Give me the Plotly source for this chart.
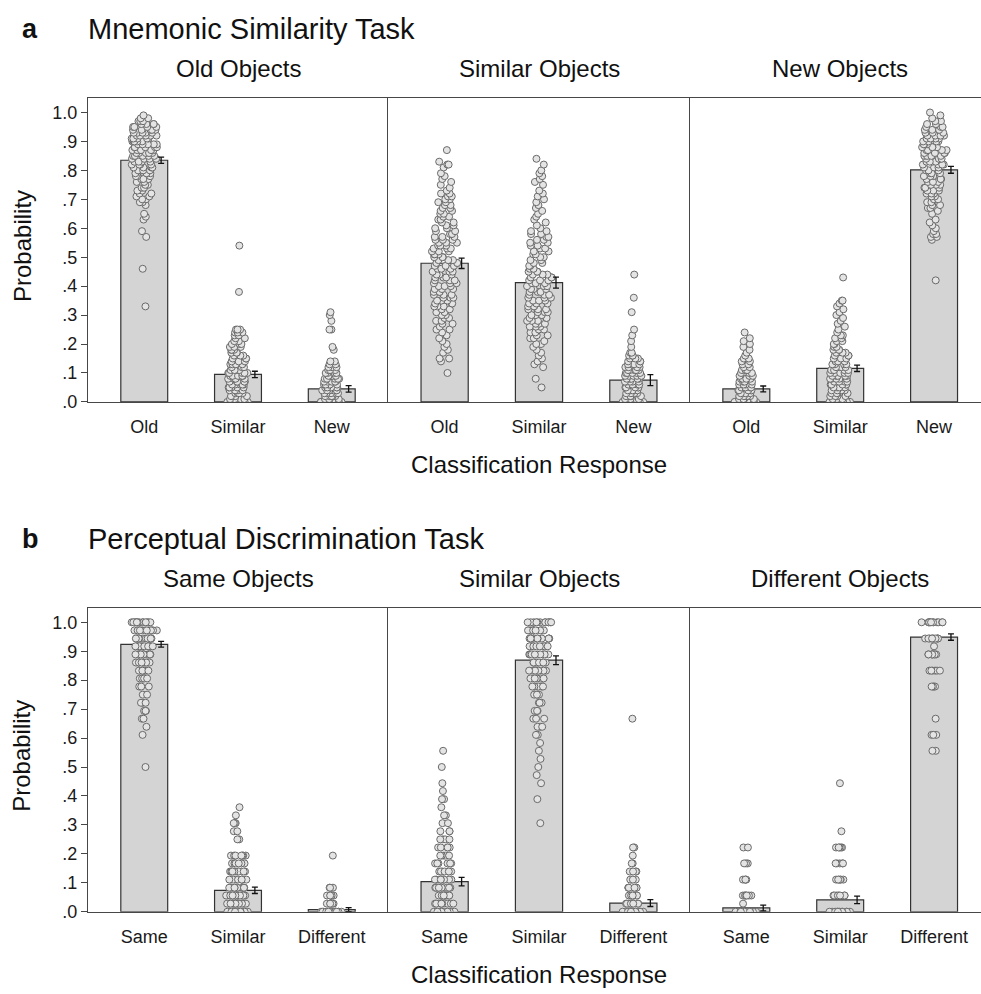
import plotly.graph_objects as go

W, H = 981, 994

# ---------------- Panel a: Mnemonic Similarity Task ----------------
conditions_a = ["Old Objects", "Similar Objects", "New Objects"]
responses_a = ["Old", "Similar", "New"]
means_a = [[0.835, 0.095, 0.045], [0.479, 0.412, 0.075], [0.045, 0.116, 0.802]]
se_a = [[0.011, 0.011, 0.011], [0.018, 0.019, 0.019], [0.010, 0.011, 0.012]]

a_oldobj_old = [0.33, 0.46, 0.57, 0.59, 0.63, 0.64, 0.65,
                0.68, 0.69, 0.69, 0.70, 0.70, 0.71, 0.71, 0.72, 0.72, 0.73, 0.73, 0.74, 0.74, 0.75, 0.75,
                0.76, 0.76, 0.76, 0.77, 0.77, 0.77, 0.78, 0.78, 0.78, 0.79, 0.79, 0.79, 0.80, 0.80, 0.80, 0.80,
                0.81, 0.81, 0.81, 0.81, 0.82, 0.82, 0.82, 0.82, 0.83, 0.83, 0.83, 0.83, 0.84, 0.84, 0.84, 0.84,
                0.85, 0.85, 0.85, 0.85, 0.85, 0.86, 0.86, 0.86, 0.86, 0.86, 0.87, 0.87, 0.87, 0.87, 0.87,
                0.88, 0.88, 0.88, 0.88, 0.88, 0.89, 0.89, 0.89, 0.89, 0.89, 0.90, 0.90, 0.90, 0.90, 0.90,
                0.91, 0.91, 0.91, 0.91, 0.91, 0.92, 0.92, 0.92, 0.92, 0.92, 0.93, 0.93, 0.93, 0.93, 0.93,
                0.94, 0.94, 0.94, 0.94, 0.94, 0.95, 0.95, 0.95, 0.95, 0.96, 0.96, 0.96, 0.96,
                0.97, 0.97, 0.97, 0.98, 0.98, 0.99]
a_oldobj_sim = [0.00, 0.00, 0.00, 0.00, 0.00, 0.00, 0.00, 0.00, 0.00, 0.00,
                0.01, 0.01, 0.01, 0.01, 0.02, 0.02, 0.02, 0.02, 0.03, 0.03, 0.03, 0.03,
                0.04, 0.04, 0.04, 0.04, 0.04, 0.05, 0.05, 0.05, 0.05, 0.05, 0.06, 0.06, 0.06, 0.06, 0.06,
                0.07, 0.07, 0.07, 0.07, 0.07, 0.08, 0.08, 0.08, 0.08, 0.08, 0.09, 0.09, 0.09, 0.09, 0.09,
                0.10, 0.10, 0.10, 0.10, 0.10, 0.11, 0.11, 0.11, 0.11, 0.12, 0.12, 0.12, 0.12,
                0.13, 0.13, 0.13, 0.13, 0.14, 0.14, 0.14, 0.15, 0.15, 0.15, 0.16, 0.16, 0.16,
                0.17, 0.17, 0.17, 0.18, 0.18, 0.18, 0.19, 0.19, 0.19, 0.20, 0.20, 0.20, 0.21, 0.21,
                0.22, 0.22, 0.23, 0.23, 0.24, 0.24, 0.24, 0.25, 0.25, 0.25, 0.38, 0.54]
a_oldobj_new = [0.00, 0.00, 0.00, 0.00, 0.00, 0.00, 0.00, 0.00, 0.00, 0.00, 0.00, 0.00, 0.00, 0.00,
                0.01, 0.01, 0.01, 0.01, 0.01, 0.02, 0.02, 0.02, 0.02, 0.02, 0.02,
                0.03, 0.03, 0.03, 0.03, 0.03, 0.03, 0.04, 0.04, 0.04, 0.04, 0.04, 0.04,
                0.05, 0.05, 0.05, 0.05, 0.05, 0.05, 0.06, 0.06, 0.06, 0.06, 0.06,
                0.07, 0.07, 0.07, 0.07, 0.07, 0.08, 0.08, 0.08, 0.08, 0.08, 0.09, 0.09, 0.09, 0.09,
                0.10, 0.10, 0.10, 0.10, 0.11, 0.11, 0.11, 0.12, 0.12, 0.12, 0.13, 0.13, 0.14, 0.14,
                0.18, 0.19, 0.25, 0.25, 0.28, 0.30, 0.31]

a_simobj_old = [0.10, 0.14, 0.15, 0.15, 0.17, 0.18, 0.19, 0.20, 0.21, 0.22, 0.23, 0.24, 0.25, 0.25,
                0.26, 0.27, 0.27, 0.28, 0.28, 0.29, 0.29, 0.30, 0.30, 0.31, 0.31, 0.32, 0.32,
                0.33, 0.33, 0.33, 0.34, 0.34, 0.34, 0.35, 0.35, 0.35, 0.36, 0.36, 0.36, 0.37, 0.37, 0.37,
                0.38, 0.38, 0.38, 0.39, 0.39, 0.39, 0.40, 0.40, 0.40, 0.41, 0.41, 0.41, 0.42, 0.42, 0.42,
                0.43, 0.43, 0.43, 0.44, 0.44, 0.44, 0.45, 0.45, 0.45, 0.46, 0.46, 0.46, 0.47, 0.47, 0.47,
                0.48, 0.48, 0.48, 0.49, 0.49, 0.49, 0.50, 0.50, 0.50, 0.51, 0.51, 0.51, 0.52, 0.52, 0.52,
                0.53, 0.53, 0.53, 0.54, 0.54, 0.54, 0.55, 0.55, 0.55, 0.56, 0.56, 0.56, 0.57, 0.57, 0.57,
                0.58, 0.58, 0.59, 0.59, 0.60, 0.60, 0.61, 0.61, 0.62, 0.62, 0.63, 0.63, 0.64, 0.64,
                0.65, 0.65, 0.66, 0.66, 0.67, 0.67, 0.68, 0.68, 0.69, 0.69, 0.70, 0.70, 0.71, 0.71,
                0.72, 0.72, 0.73, 0.74, 0.75, 0.76, 0.77, 0.78, 0.79, 0.81, 0.82, 0.82, 0.83, 0.87]
a_simobj_sim = [0.05, 0.08, 0.12, 0.13, 0.14, 0.15, 0.16, 0.17, 0.18, 0.19, 0.20, 0.20, 0.21, 0.22, 0.22,
                0.23, 0.23, 0.24, 0.24, 0.25, 0.25, 0.26, 0.26, 0.26, 0.27, 0.27, 0.27, 0.28, 0.28, 0.28,
                0.29, 0.29, 0.29, 0.30, 0.30, 0.30, 0.31, 0.31, 0.31, 0.32, 0.32, 0.32, 0.33, 0.33, 0.33,
                0.34, 0.34, 0.34, 0.35, 0.35, 0.35, 0.36, 0.36, 0.36, 0.37, 0.37, 0.37, 0.38, 0.38, 0.38,
                0.39, 0.39, 0.39, 0.40, 0.40, 0.40, 0.41, 0.41, 0.41, 0.42, 0.42, 0.42, 0.43, 0.43, 0.43,
                0.44, 0.44, 0.44, 0.45, 0.45, 0.45, 0.46, 0.46, 0.47, 0.47, 0.48, 0.48, 0.49, 0.49,
                0.50, 0.50, 0.51, 0.51, 0.52, 0.52, 0.53, 0.53, 0.54, 0.54, 0.55, 0.55, 0.56, 0.56,
                0.57, 0.57, 0.58, 0.58, 0.59, 0.59, 0.60, 0.61, 0.62, 0.63, 0.64, 0.65, 0.66, 0.67,
                0.68, 0.69, 0.70, 0.71, 0.72, 0.73, 0.75, 0.76, 0.77, 0.78, 0.79, 0.80, 0.82, 0.84]
a_simobj_new = [0.00, 0.00, 0.00, 0.00, 0.00, 0.00, 0.00, 0.00, 0.00, 0.00, 0.01, 0.01, 0.01, 0.01,
                0.02, 0.02, 0.02, 0.02, 0.02, 0.03, 0.03, 0.03, 0.03, 0.03, 0.04, 0.04, 0.04, 0.04, 0.04,
                0.05, 0.05, 0.05, 0.05, 0.05, 0.06, 0.06, 0.06, 0.06, 0.06, 0.07, 0.07, 0.07, 0.07, 0.07,
                0.08, 0.08, 0.08, 0.08, 0.08, 0.09, 0.09, 0.09, 0.09, 0.09, 0.10, 0.10, 0.10, 0.10, 0.10,
                0.11, 0.11, 0.11, 0.11, 0.11, 0.12, 0.12, 0.12, 0.12, 0.13, 0.13, 0.13, 0.13,
                0.14, 0.14, 0.14, 0.15, 0.15, 0.15, 0.16, 0.16, 0.16, 0.17, 0.17,
                0.19, 0.21, 0.23, 0.25, 0.31, 0.36, 0.44]

a_newobj_old = [0.00, 0.00, 0.00, 0.00, 0.00, 0.00, 0.00, 0.00, 0.00, 0.00, 0.00, 0.00, 0.00, 0.00,
                0.01, 0.01, 0.01, 0.01, 0.01, 0.02, 0.02, 0.02, 0.02, 0.02, 0.03, 0.03, 0.03, 0.03, 0.03,
                0.04, 0.04, 0.04, 0.04, 0.04, 0.05, 0.05, 0.05, 0.05, 0.05, 0.06, 0.06, 0.06, 0.06,
                0.07, 0.07, 0.07, 0.07, 0.08, 0.08, 0.08, 0.08, 0.09, 0.09, 0.09, 0.10, 0.10, 0.10,
                0.11, 0.11, 0.11, 0.12, 0.12, 0.13, 0.13, 0.14, 0.14, 0.15, 0.15,
                0.16, 0.17, 0.18, 0.19, 0.20, 0.21, 0.22, 0.24]
a_newobj_sim = [0.00, 0.00, 0.00, 0.00, 0.00, 0.00, 0.00, 0.00, 0.01, 0.01, 0.01, 0.02, 0.02, 0.02, 0.02,
                0.03, 0.03, 0.03, 0.03, 0.04, 0.04, 0.04, 0.04, 0.04, 0.05, 0.05, 0.05, 0.05, 0.05,
                0.06, 0.06, 0.06, 0.06, 0.06, 0.07, 0.07, 0.07, 0.07, 0.07, 0.08, 0.08, 0.08, 0.08, 0.08,
                0.09, 0.09, 0.09, 0.09, 0.09, 0.10, 0.10, 0.10, 0.10, 0.10, 0.11, 0.11, 0.11, 0.11,
                0.12, 0.12, 0.12, 0.12, 0.13, 0.13, 0.13, 0.13, 0.14, 0.14, 0.14, 0.15, 0.15, 0.15,
                0.16, 0.16, 0.16, 0.17, 0.17, 0.17, 0.18, 0.18, 0.18, 0.19, 0.19, 0.20, 0.20,
                0.21, 0.21, 0.22, 0.22, 0.23, 0.23, 0.24, 0.25, 0.26, 0.27, 0.28, 0.29, 0.30,
                0.31, 0.32, 0.33, 0.34, 0.35, 0.35, 0.43]
a_newobj_new = [0.42, 0.56, 0.57, 0.57, 0.58, 0.58, 0.59, 0.60, 0.61, 0.62, 0.63, 0.65, 0.66, 0.67, 0.67,
                0.68, 0.68, 0.69, 0.69, 0.70, 0.70, 0.71, 0.71, 0.72, 0.72, 0.72, 0.73, 0.73, 0.73,
                0.74, 0.74, 0.74, 0.75, 0.75, 0.75, 0.76, 0.76, 0.76, 0.77, 0.77, 0.77, 0.78, 0.78, 0.78,
                0.79, 0.79, 0.79, 0.80, 0.80, 0.80, 0.81, 0.81, 0.81, 0.82, 0.82, 0.82, 0.82,
                0.83, 0.83, 0.83, 0.83, 0.84, 0.84, 0.84, 0.84, 0.85, 0.85, 0.85, 0.85,
                0.86, 0.86, 0.86, 0.86, 0.87, 0.87, 0.87, 0.87, 0.88, 0.88, 0.88, 0.88,
                0.89, 0.89, 0.89, 0.89, 0.90, 0.90, 0.90, 0.90, 0.91, 0.91, 0.91, 0.91,
                0.92, 0.92, 0.92, 0.92, 0.93, 0.93, 0.93, 0.94, 0.94, 0.94, 0.95, 0.95, 0.95,
                0.96, 0.96, 0.97, 0.97, 0.98, 0.99, 1.00]

points_a = [[a_oldobj_old, a_oldobj_sim, a_oldobj_new],
            [a_simobj_old, a_simobj_sim, a_simobj_new],
            [a_newobj_old, a_newobj_sim, a_newobj_new]]

# ---------------- Panel b: Perceptual Discrimination Task ----------------
# responses here take discrete values; each group is given as (value levels, number of dots at that level)
conditions_b = ["Same Objects", "Similar Objects", "Different Objects"]
responses_b = ["Same", "Similar", "Different"]
means_b = [[0.924, 0.074, 0.007], [0.104, 0.869, 0.030], [0.013, 0.041, 0.949]]
se_b = [[0.010, 0.011, 0.007], [0.015, 0.015, 0.012], [0.010, 0.013, 0.011]]

b_sameobj_same_levels = [1.0, 0.972, 0.944, 0.917, 0.889, 0.861, 0.833, 0.806, 0.778, 0.75, 0.722, 0.694, 0.667, 0.639, 0.611, 0.5]
b_sameobj_same_counts = [14, 12, 12, 10, 9, 8, 6, 5, 3, 2, 3, 3, 2, 1, 1, 1]
b_sameobj_sim_levels = [0.0, 0.028, 0.056, 0.083, 0.111, 0.139, 0.167, 0.194, 0.25, 0.278, 0.306, 0.333, 0.361]
b_sameobj_sim_counts = [12, 12, 12, 10, 9, 8, 7, 7, 2, 2, 4, 1, 1]
b_sameobj_diff_levels = [0.0, 0.028, 0.056, 0.083, 0.194]
b_sameobj_diff_counts = [16, 7, 6, 3, 1]

b_simobj_same_levels = [0.0, 0.028, 0.056, 0.083, 0.111, 0.139, 0.167, 0.194, 0.222, 0.25, 0.278, 0.306, 0.333, 0.361, 0.389, 0.417, 0.444, 0.5, 0.556]
b_simobj_same_counts = [10, 9, 9, 9, 8, 7, 6, 5, 5, 4, 3, 2, 2, 1, 2, 1, 1, 1, 1]
b_simobj_sim_levels = [1.0, 0.972, 0.944, 0.917, 0.889, 0.861, 0.833, 0.806, 0.778, 0.75, 0.722, 0.694, 0.667, 0.639, 0.611, 0.583, 0.556, 0.528, 0.5, 0.472, 0.444, 0.389, 0.306]
b_simobj_sim_counts = [12, 11, 11, 10, 9, 8, 7, 6, 5, 4, 3, 3, 3, 3, 2, 1, 1, 1, 1, 1, 1, 1, 1]
b_simobj_diff_levels = [0.0, 0.028, 0.056, 0.083, 0.111, 0.139, 0.167, 0.194, 0.222, 0.667]
b_simobj_diff_counts = [12, 8, 8, 6, 4, 4, 2, 1, 2, 1]

b_diffobj_same_levels = [0.0, 0.028, 0.056, 0.111, 0.167, 0.222]
b_diffobj_same_counts = [14, 1, 7, 4, 3, 2]
b_diffobj_sim_levels = [0.0, 0.056, 0.111, 0.167, 0.222, 0.278, 0.444]
b_diffobj_sim_counts = [12, 8, 6, 5, 5, 1, 1]
b_diffobj_diff_levels = [1.0, 0.944, 0.917, 0.889, 0.833, 0.778, 0.667, 0.611, 0.556]
b_diffobj_diff_counts = [12, 10, 1, 8, 6, 4, 1, 3, 2]


def expand(levels, counts):
    out = []
    for v, n in zip(levels, counts):
        out.extend([v] * n)
    return out


points_b = [[expand(b_sameobj_same_levels, b_sameobj_same_counts),
             expand(b_sameobj_sim_levels, b_sameobj_sim_counts),
             expand(b_sameobj_diff_levels, b_sameobj_diff_counts)],
            [expand(b_simobj_same_levels, b_simobj_same_counts),
             expand(b_simobj_sim_levels, b_simobj_sim_counts),
             expand(b_simobj_diff_levels, b_simobj_diff_counts)],
            [expand(b_diffobj_same_levels, b_diffobj_same_counts),
             expand(b_diffobj_sim_levels, b_diffobj_sim_counts),
             expand(b_diffobj_diff_levels, b_diffobj_diff_counts)]]

y_tickvals = [0.0, 0.1, 0.2, 0.3, 0.4, 0.5, 0.6, 0.7, 0.8, 0.9, 1.0]
y_ticktext = [".0", ".1", ".2", ".3", ".4", ".5", ".6", ".7", ".8", ".9", "1.0"]

# ---------------- styling / layout geometry ----------------
FONT = "Liberation Sans, Arial, Helvetica, sans-serif"
BAR_FILL = "#d4d4d4"
FRAME = "#474747"
col_px = [(88, 388), (388, 690), (690, 981)]
col_ranges = [[-0.6, 2.6], [-0.6, 2.6], [-0.6, 2.5]]
row_px = [(99, 406), (614, 921)]   # top, bottom in pixels

fig = go.Figure()
layout = dict(width=W, height=H, margin=dict(l=0, r=0, t=0, b=0),
              paper_bgcolor="white", plot_bgcolor="white", showlegend=False,
              font=dict(family=FONT, color="#1a1a1a"), boxmode="overlay")

panels = [(means_a, se_a, points_a, responses_a), (means_b, se_b, points_b, responses_b)]
for r, (means, ses, pts, resp) in enumerate(panels):
    for c in range(3):
        k = r * 3 + c + 1
        xa, ya = f"x{k}", f"y{k}"
        fig.add_trace(go.Bar(x=[0, 1, 2], y=means[c], width=0.5, xaxis=xa, yaxis=ya,
                             marker=dict(color=BAR_FILL, line=dict(color="#333333", width=1.2)),
                             hoverinfo="skip"))
        for i, vals in enumerate(pts[c]):
            fig.add_trace(go.Box(y=vals, x0=i, width=0.27, xaxis=xa, yaxis=ya,
                                 boxpoints="all", jitter=1, pointpos=0,
                                 fillcolor="rgba(0,0,0,0)", line=dict(color="rgba(0,0,0,0)", width=0),
                                 marker=dict(size=7, color="#e4e4e4",
                                             line=dict(color="#6a6a6a", width=1)),
                                 hoverinfo="skip"))
        fig.add_trace(go.Scatter(x=[i + 0.18 for i in range(3)], y=means[c], mode="markers",
                                 xaxis=xa, yaxis=ya,
                                 marker=dict(size=1, color="rgba(0,0,0,0)"),
                                 error_y=dict(type="data", array=ses[c], color="#111111",
                                              thickness=1.3, width=3),
                                 hoverinfo="skip"))
        top, bot = row_px[r]
        x0p, x1p = col_px[c]
        layout[f"xaxis{k}"] = dict(domain=[x0p / W, x1p / W], range=col_ranges[c], anchor=ya,
                                   showline=True, linecolor=FRAME, linewidth=1.2, mirror=True,
                                   ticks="", tickvals=[0, 1, 2], ticktext=resp,
                                   tickfont=dict(size=18, color="#1a1a1a"), ticklabelstandoff=8,
                                   showgrid=False, zeroline=False, fixedrange=True)
        ydict = dict(domain=[(H - bot) / H, (H - top) / H], range=[0, 1.05], anchor=xa,
                     showline=True, linecolor=FRAME, linewidth=1.2, mirror=False,
                     showgrid=False, zeroline=False, fixedrange=True)
        if c == 0:
            ydict.update(ticks="outside", ticklen=6, tickcolor=FRAME, tickwidth=1,
                         tickvals=y_tickvals, ticktext=y_ticktext,
                         tickfont=dict(size=18, color="#1a1a1a"))
        else:
            ydict.update(ticks="", showticklabels=False)
        layout[f"yaxis{k}"] = ydict

ann = []


def add_text(text, xpx, ypx, size, xanchor="center", bold=False, angle=0):
    ann.append(dict(text=f"<b>{text}</b>" if bold else text, x=xpx / W, y=1 - ypx / H,
                    xref="paper", yref="paper", xanchor=xanchor, yanchor="middle",
                    showarrow=False, textangle=angle, font=dict(size=size, color="#111111")))


titles = [("a", "Mnemonic Similarity Task", conditions_a), ("b", "Perceptual Discrimination Task", conditions_b)]
for r, (letter, title, conds) in enumerate(titles):
    top, bot = row_px[r]
    add_text(letter, 30, top - 70, 27, bold=True)
    add_text(title, 86, top - 70, 29, xanchor="left")
    centers = [238, 539, 840]
    for c, cond in enumerate(conds):
        add_text(cond, centers[c], top - 30, 24)
    add_text("Classification Response", 539, bot + 63, 24)
    add_text("Probability", 22, (top + bot) / 2 - 4, 24, angle=-90)

layout["annotations"] = ann
fig.update_layout(**layout)
fig.write_html("out.html", config={"displayModeBar": False, "staticPlot": True},
               post_script="document.body.style.margin='0';document.body.style.overflow='hidden';")
